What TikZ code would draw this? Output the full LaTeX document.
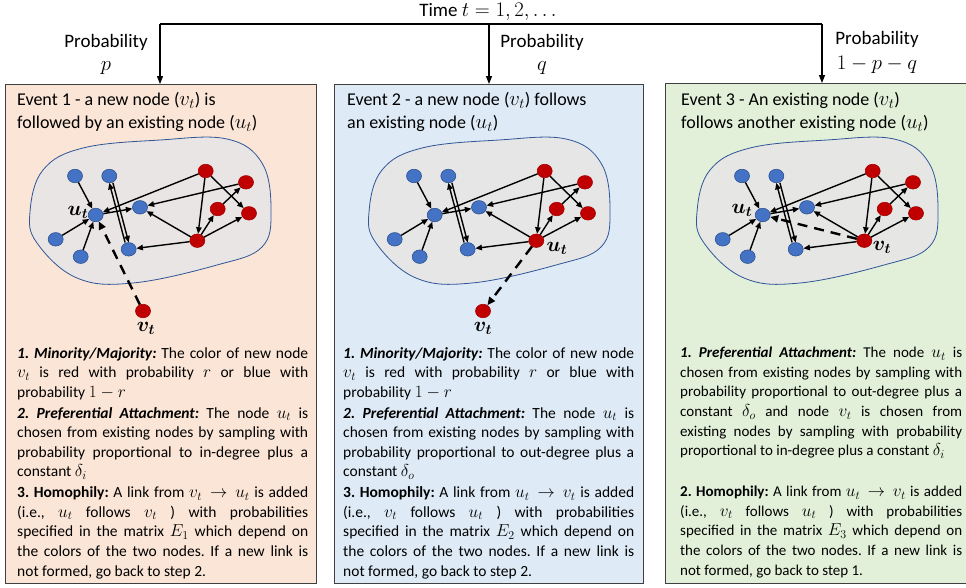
\documentclass[tikz,border=0pt]{standalone}
\usepackage{fontspec}
\setmainfont{Carlito}
\usetikzlibrary{arrows.meta,shapes.geometric,calc}
\DeclareMathSizes{15.5}{17}{12}{9}
\DeclareMathSizes{15}{16.5}{11.5}{9}
\DeclareMathSizes{18}{20}{14}{10}
\DeclareMathSizes{19}{21}{15}{11}
\definecolor{pA}{HTML}{FBE5D6}
\definecolor{pB}{HTML}{DEEBF7}
\definecolor{pC}{HTML}{E2F0D9}
\definecolor{blobfill}{HTML}{E7E6E6}
\definecolor{blobline}{HTML}{2F5597}
\definecolor{nblue}{HTML}{4472C4}
\definecolor{nblueline}{HTML}{2F528F}
\definecolor{nred}{HTML}{C00000}
\definecolor{nredline}{HTML}{A50000}
\definecolor{frame}{HTML}{404040}
\newcommand\netgraph[1]{%
  \draw[blob] plot[smooth cycle,tension=0.65] coordinates {(30,212)(43,170)(83,148)(160,140)(227,139)(262,163)(271,210)(262,247)(217,265)(133,283)(77,278)(37,243)};
  \node[bnode] (#1b1) at (75,176) {};
  \node[bnode] (#1b2) at (109.3,176) {};
  \node[bnode] (#1ut) at (95.7,215) {};
  \node[bnode] (#1b3) at (140,207.3) {};
  \node[bnode] (#1b4) at (55.7,239.3) {};
  \node[bnode] (#1b5) at (80.7,256.7) {};
  \node[bnode] (#1b6) at (128.7,249.3) {};
  \node[rnode] (#1r1) at (205.7,171) {};
  \node[rnode] (#1r2) at (246,182.3) {};
  \node[rnode] (#1r3) at (217.7,209) {};
  \node[rnode] (#1r4) at (249,213.3) {};
  \node[rnode] (#1r5) at (197.3,240.7) {};
  \draw[edge] (#1b1) -- (#1ut);
  \draw[edge] (#1b4) -- (#1ut);
  \draw[edge] (#1b5) -- (#1ut);
  \draw[edge] (#1r1) -- (#1ut);
  \draw[edge] (#1ut) -- (#1b3);
  \draw[edge,transform canvas={xshift=-1.8pt}] (#1b6) -- (#1b2);
  \draw[edge,transform canvas={xshift=1.8pt}] (#1b2) -- (#1b6);
  \draw[edge] (#1r2) -- (#1b3);
  \draw[edge] (#1r1) -- (#1r5);
  \draw[edge] (#1r1) -- (#1r4);
  \draw[edge] (#1r3) -- (#1r2);
  \draw[edge] (#1r5) -- (#1r3);
  \draw[edge] (#1r5) -- (#1r4);
  \draw[edge] (#1r5) -- (#1b3);
  \draw[edge] (#1r5) -- (#1b6);
}
\begin{document}
\frenchspacing
\begin{tikzpicture}[x=1pt,y=-1pt,
  panel/.style={draw=frame,line width=1.2pt,inner sep=0pt,anchor=north west},
  bnode/.style={ellipse,fill=nblue,draw=nblueline,line width=0.6pt,minimum width=15pt,minimum height=13.5pt,inner sep=0pt},
  rnode/.style={ellipse,fill=nred,draw=nredline,line width=0.6pt,minimum width=15pt,minimum height=13.5pt,inner sep=0pt},
  edge/.style={line width=1.4pt,-{Triangle[length=6.5pt,width=5.5pt]}},
  newedge/.style={line width=2.4pt,dash pattern=on 10pt off 7pt,-{Triangle[length=8pt,width=7pt]}},
  blob/.style={fill=blobfill,fill opacity=0.9,draw=blobline,line width=0.8pt},
  title/.style={font=\fontsize{18}{23}\selectfont,align=left,anchor=north west,inner sep=0pt},
  body/.style={font=\fontsize{15.5}{19.6}\selectfont,text width=291pt,align=justify,anchor=north west,inner sep=0pt},
  bodyc/.style={font=\fontsize{15}{19.6}\selectfont,text width=282pt,align=justify,anchor=north west,inner sep=0pt},
  lbl/.style={font=\fontsize{18}{23}\selectfont\boldmath,inner sep=0pt},
  toptext/.style={font=\fontsize{19}{23}\selectfont,inner sep=0pt},
  branch/.style={line width=1.3pt},
  down/.style={line width=1.3pt,-{Triangle[length=8pt,width=6pt]}},
]
\useasboundingbox (0,0) rectangle (966,587);
\fill[white] (0,0) rectangle (966,587);
% panels
\node[panel,fill=pA,minimum width=311pt,minimum height=499pt] (P1) at (5,84) {};
\node[panel,fill=pB,minimum width=309pt,minimum height=499pt] (P2) at (334,84) {};
\node[panel,fill=pC,minimum width=305pt,minimum height=500pt] (P3) at (665,83) {};
% top tree
\node[toptext] (time) at (488,12) {Time $t=1,2,\ldots$};
\coordinate (jA) at (160,24);
\coordinate (jB) at (489,24);
\coordinate (jC) at (822,24);
\draw[branch] (jA) -- (jC);
\draw[down] (jA) -- (jA |- P1.north);
\draw[down] (jB) -- (jB |- P2.north);
\draw[down] (jC) -- (jC |- P3.north);
\node[toptext] (prA) at (106,42) {Probability};
\node[toptext] (pA) at (106,68) {$p$};
\node[toptext] (prB) at (542,42) {Probability};
\node[toptext] (pB) at (542,68) {$q$};
\node[toptext] (prC) at (877,39) {Probability};
\node[toptext] (pC) at (877,65) {$1-p-q$};
% titles
\node[title] (h1) at (17,92) {Event 1 - a new node ($v_t$) is\\followed by an existing node ($u_t$)};
\node[title] (h2) at (347,92) {Event 2 - a new node ($v_t$) follows\\an existing node ($u_t$)};
\node[title] (h3) at (681,92) {Event 3 - An existing node ($v_t$)\\follows another existing node ($u_t$)};
% graphs
\begin{scope}
\netgraph{a}
\node[rnode] (avt) at (143,311) {};
\draw[newedge] (avt) -- (aut);
\node[lbl] (alu) at (78,212) {$u_t$};
\node[lbl] (alv) at (146,328) {$v_t$};
\end{scope}
\begin{scope}[shift={(339,0)}]
\netgraph{b}
\node[rnode] (bvt) at (144,311) {};
\draw[newedge] (br5) -- (bvt);
\node[lbl] (blu) at (218,248) {$u_t$};
\node[lbl] (blv) at (144,328) {$v_t$};
\end{scope}
\begin{scope}[shift={(667,0)}]
\netgraph{c}
\draw[newedge] (cr5) -- (cut);
\node[lbl] (clu) at (75,210) {$u_t$};
\node[lbl] (clv) at (215,247) {$v_t$};
\end{scope}
% body texts
\node[body] (t1) at (17,347) {%
\textbf{\textit{1. Minority/Majority:}} The color of new node\linebreak
$v_t$ is red with probability $r$ or blue with\linebreak
probability $1-r$\par\vspace{1.2pt}
\textbf{\textit{2. Preferential Attachment:}} The node $u_t$ is\linebreak
chosen from existing nodes by sampling with\linebreak
probability proportional to in-degree plus a\linebreak
constant $\delta_i$\par\vspace{1.2pt}
\textbf{3. Homophily:} A link from $v_t \to u_t$ is added\linebreak
(i.e., $u_t$ follows $v_t$ ) with probabilities\linebreak
specified in the matrix $E_1$ which depend on\linebreak
the colors of the two nodes. If a new link is\linebreak
not formed, go back to step 2.};
\node[body] (t2) at (343,347) {%
\textbf{\textit{1. Minority/Majority:}} The color of new node\linebreak
$v_t$ is red with probability $r$ or blue with\linebreak
probability $1-r$\par\vspace{1.2pt}
\textbf{\textit{2. Preferential Attachment:}} The node $u_t$ is\linebreak
chosen from existing nodes by sampling with\linebreak
probability proportional to out-degree plus a\linebreak
constant $\delta_o$\par\vspace{1.2pt}
\textbf{3. Homophily:} A link from $u_t \to v_t$ is added\linebreak
(i.e., $v_t$ follows $u_t$ ) with probabilities\linebreak
specified in the matrix $E_2$ which depend on\linebreak
the colors of the two nodes. If a new link is\linebreak
not formed, go back to step 2.};
\node[bodyc] (t3) at (680,347) {%
\textbf{\textit{1. Preferential Attachment:}} The node $u_t$ is\linebreak
chosen from existing nodes by sampling with\linebreak
probability proportional to out-degree plus a\linebreak
constant $\delta_o$ and node $v_t$ is chosen from\linebreak
existing nodes by sampling with probability\linebreak
proportional to in-degree plus a constant $\delta_i$\par\vspace{21.4pt}
\textbf{2. Homophily:} A link from $u_t \to v_t$ is added\linebreak
(i.e., $v_t$ follows $u_t$ ) with probabilities\linebreak
specified in the matrix $E_3$ which depend on\linebreak
the colors of the two nodes. If a new link is\linebreak
not formed, go back to step 1.};
\end{tikzpicture}
\end{document}
